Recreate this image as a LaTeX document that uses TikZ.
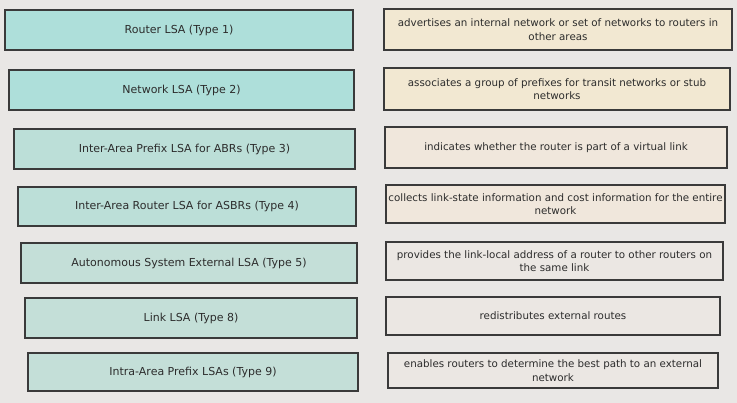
\documentclass[tikz,border=0pt]{standalone}
\usepackage{fontspec}
\setmainfont{DejaVu Sans}
\definecolor{bg}{HTML}{E9E7E5}
\definecolor{tealA}{HTML}{AEDFDA}
\definecolor{tealB}{HTML}{BCDFD8}
\definecolor{tealC}{HTML}{C4DFD8}
\definecolor{beigeA}{HTML}{F2E8D2}
\definecolor{beigeB}{HTML}{F0E7DC}
\definecolor{greyB}{HTML}{EBE7E3}
\definecolor{edge}{HTML}{3A3A3A}
\definecolor{ink}{HTML}{2C2C2C}
\tikzset{
  box/.style={draw=edge, line width=1.3pt, rectangle, inner sep=0pt, text=ink, align=center},
  lbox/.style={box, font=\fontsize{11}{13}\selectfont},
  rbox/.style={box, font=\fontsize{10.3}{13.5}\selectfont},
}
\begin{document}
\begin{tikzpicture}[x=1pt,y=-1pt]
\fill[bg] (0,0) rectangle (737,403);
\useasboundingbox (0,0) rectangle (737,403);
% left column
\node[lbox, fill=tealA, minimum width=348pt, minimum height=40pt] (l1) at (179,30) {Router LSA (Type 1)};
\node[lbox, fill=tealA, minimum width=345pt, minimum height=40pt] (l2) at (181.5,90) {Network LSA (Type 2)};
\node[lbox, fill=tealB, minimum width=341pt, minimum height=40pt] (l3) at (184.5,149) {Inter-Area Prefix LSA for ABRs (Type 3)};
\node[lbox, fill=tealB, minimum width=338pt, minimum height=39pt] (l4) at (187,206.5) {Inter-Area Router LSA for ASBRs (Type 4)};
\node[lbox, fill=tealC, minimum width=336pt, minimum height=40pt] (l5) at (189,263) {Autonomous System External LSA (Type 5)};
\node[lbox, fill=tealC, minimum width=332pt, minimum height=40pt] (l6) at (191,318) {Link LSA (Type 8)};
\node[lbox, fill=tealC, minimum width=330pt, minimum height=38pt] (l7) at (193,372) {Intra-Area Prefix LSAs (Type 9)};
% right column
\node[rbox, fill=beigeA, minimum width=348pt, minimum height=41pt] (r1) at (558,29.5) {advertises an internal network or set of networks to routers in\\other areas};
\node[rbox, fill=beigeA, minimum width=346pt, minimum height=42pt] (r2) at (557,89) {associates a group of prefixes for transit networks or stub\\networks};
\node[rbox, fill=beigeB, minimum width=342pt, minimum height=41pt] (r3) at (556,147.5) {indicates whether the router is part of a virtual link};
\node[rbox, fill=beigeB, minimum width=339pt, minimum height=38pt] (r4) at (555.5,204) {collects link-state information and cost information for the entire\\network};
\node[rbox, fill=greyB, minimum width=337pt, minimum height=38pt] (r5) at (554.5,261) {provides the link-local address of a router to other routers on\\the same link};
\node[rbox, fill=greyB, minimum width=334pt, minimum height=38pt] (r6) at (553,316) {redistributes external routes};
\node[rbox, fill=greyB, minimum width=330pt, minimum height=35pt] (r7) at (553,370.5) {enables routers to determine the best path to an external\\network};
\end{tikzpicture}
\end{document}
